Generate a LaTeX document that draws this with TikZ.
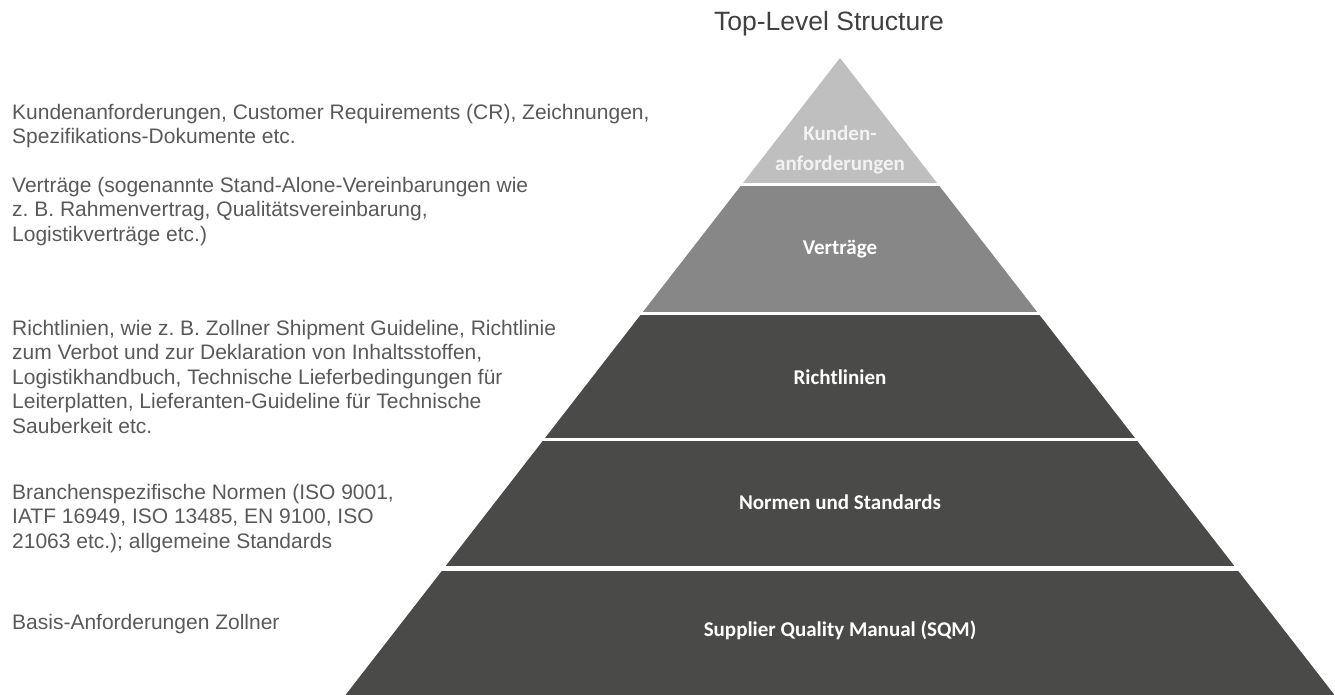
\documentclass[tikz,border=0pt]{standalone}
\usepackage{fontspec}
\setmainfont{Liberation Sans}
\newfontfamily\tierfont{Carlito}
\definecolor{tierlight}{HTML}{BFBFBF}
\definecolor{tiermid}{HTML}{878787}
\definecolor{tierdark}{HTML}{4A4A49}
\definecolor{descgray}{HTML}{595959}
\definecolor{titlegray}{HTML}{404040}
\frenchspacing
\begin{document}
\begin{tikzpicture}[x=1pt,y=-1pt,
  desc/.style={anchor=base west,inner sep=0pt,align=left,text=descgray,font=\fontsize{21}{24.5}\selectfont},
  tier label/.style={anchor=base,inner sep=0pt,align=center,text=white,font=\tierfont\bfseries\fontsize{21}{30}\selectfont}]
  \useasboundingbox (0,0) rectangle (1335,695);

  % pyramid
  \begin{scope}
    \clip (840,58) -- (1334.5,695) -- (345.5,695) -- cycle;
    \fill[tierlight] (300,58) rectangle (1335,183);
    \fill[tiermid] (300,186) rectangle (1335,312);
    \foreach \top/\bot in {315/438,441/566,571/695}
      \fill[tierdark] (300,\top) rectangle (1335,\bot);
  \end{scope}

  \node[anchor=base,inner sep=0pt,text=titlegray,font=\fontsize{26.5}{30}\selectfont] (title) at (829,31) {Top-Level Structure};

  % base = last line
  \node[tier label,text=white!95!black] (kunden) at (840,171) {Kunden-\\anforderungen};
  \node[tier label] (vertraege) at (840,254) {Verträge};
  \node[tier label] (richtlinien) at (840,384) {Richtlinien};
  \node[tier label] (normen) at (840,509) {Normen und Standards};
  \node[tier label] (sqm) at (840,636) {Supplier Quality Manual (SQM)};

  % descriptions
  \node[desc] (cr) at (12,144) {Kundenanforderungen, Customer Requirements (CR), Zeichnungen,\\Spezifikations-Dokumente etc.};
  \node[desc] (vertraglich) at (12,241) {Verträge (sogenannte Stand-Alone-Vereinbarungen wie\\z. B. Rahmenvertrag, Qualitätsvereinbarung,\\Logistikverträge etc.)};
  \node[desc] (guideline) at (12,433) {Richtlinien, wie z. B. Zollner Shipment Guideline, Richtlinie\\zum Verbot und zur Deklaration von Inhaltsstoffen,\\Logistikhandbuch, Technische Lieferbedingungen für\\Leiterplatten, Lieferanten-Guideline für Technische\\Sauberkeit etc.};
  \node[desc] (branche) at (12,548) {Branchenspezifische Normen (ISO 9001,\\IATF 16949, ISO 13485, EN 9100, ISO\\21063 etc.); allgemeine Standards};
  \node[desc] (basis) at (12,629) {Basis-Anforderungen Zollner};
\end{tikzpicture}
\end{document}
